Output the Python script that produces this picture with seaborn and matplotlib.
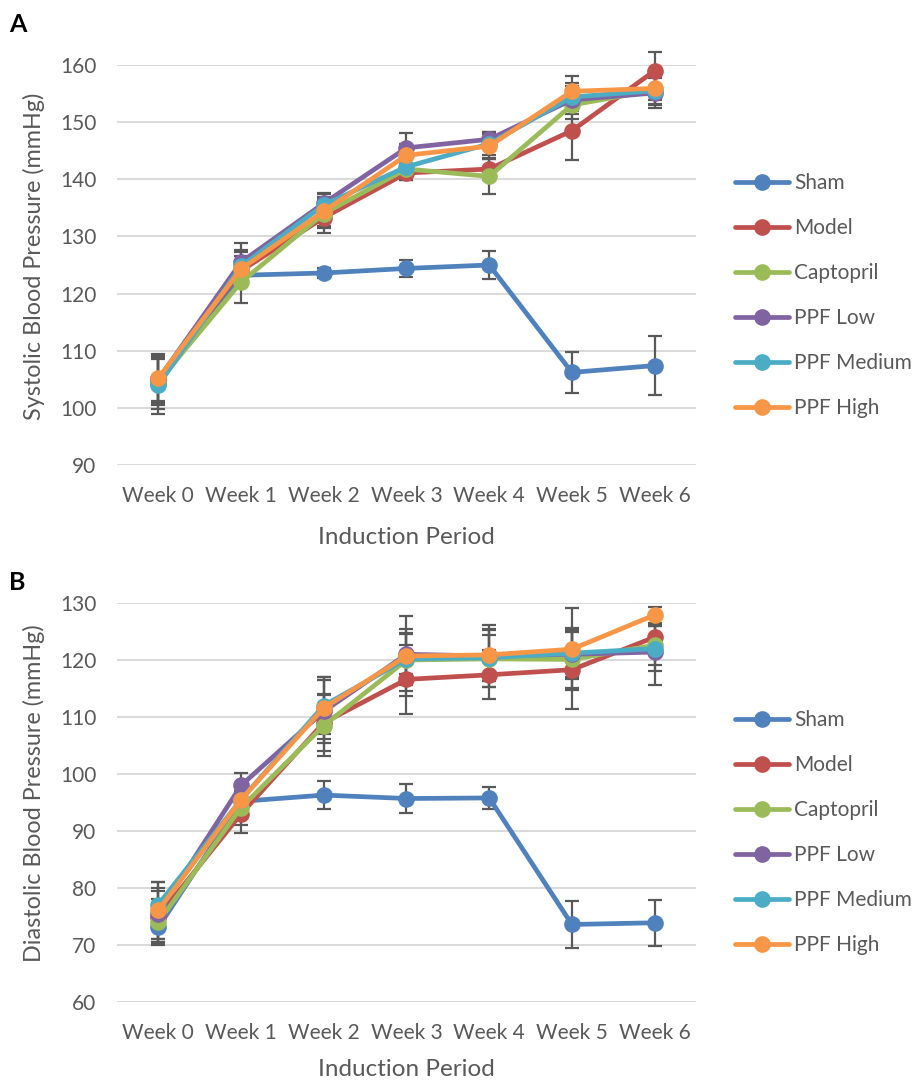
import numpy as np
import pandas as pd
import matplotlib
matplotlib.use("Agg")
import matplotlib.pyplot as plt
from matplotlib.lines import Line2D
import seaborn as sns

weeks = ["Week 0", "Week 1", "Week 2", "Week 3", "Week 4", "Week 5", "Week 6"]
groups = ["Sham", "Model", "Captopril", "PPF Low", "PPF Medium", "PPF High"]
colors = ["#4F81BD", "#C0504D", "#9BBB59", "#8064A2", "#4BACC6", "#F79646"]

# Panel A: systolic blood pressure (mmHg)
sbp_sham = [104.3, 123.2, 123.6, 124.4, 125.0, 106.2, 107.4]
sbp_model = [105.0, 124.0, 133.3, 141.1, 141.8, 148.5, 159.0]
sbp_capt = [104.6, 122.0, 134.0, 141.8, 140.5, 153.0, 155.6]
sbp_low = [105.0, 125.5, 135.8, 145.5, 147.0, 153.9, 155.1]
sbp_med = [104.0, 124.8, 135.5, 142.2, 146.2, 154.4, 155.5]
sbp_high = [105.2, 124.3, 134.4, 144.2, 145.8, 155.4, 155.9]

sbp_sham_err = [4.5, 1.0, 0.8, 1.5, 2.4, 3.6, 5.1]
sbp_model_err = [4.2, 2.6, 2.7, 1.2, 2.0, 5.2, 3.3]
sbp_capt_err = [4.0, 3.7, 2.5, 2.0, 3.0, 2.5, 2.5]
sbp_low_err = [4.5, 3.3, 1.8, 2.6, 1.2, 2.5, 2.6]
sbp_med_err = [5.0, 2.8, 2.0, 2.0, 2.0, 2.5, 2.5]
sbp_high_err = [4.0, 3.0, 2.5, 2.0, 2.2, 2.6, 2.0]

# Panel B: diastolic blood pressure (mmHg)
dbp_sham = [73.1, 95.2, 96.3, 95.7, 95.8, 73.6, 73.9]
dbp_model = [75.0, 93.0, 109.0, 116.6, 117.4, 118.3, 124.0]
dbp_capt = [74.0, 94.1, 108.5, 120.0, 120.2, 120.1, 122.6]
dbp_low = [75.5, 98.0, 111.0, 121.0, 120.7, 121.0, 121.4]
dbp_med = [77.1, 95.5, 112.0, 120.2, 120.4, 121.2, 122.0]
dbp_high = [76.1, 95.5, 111.6, 120.7, 120.9, 121.9, 127.9]

dbp_sham_err = [3.0, 1.0, 2.5, 2.5, 2.0, 4.2, 4.0]
dbp_model_err = [4.5, 3.3, 5.0, 6.0, 4.3, 6.9, 2.0]
dbp_capt_err = [4.0, 3.0, 5.3, 5.5, 5.0, 5.0, 3.5]
dbp_low_err = [4.5, 2.2, 5.5, 3.5, 5.5, 4.0, 5.8]
dbp_med_err = [4.0, 3.0, 5.0, 4.5, 4.0, 4.5, 4.0]
dbp_high_err = [5.0, 3.0, 5.4, 7.0, 4.5, 7.2, 1.4]

sbp_vals = [sbp_sham, sbp_model, sbp_capt, sbp_low, sbp_med, sbp_high]
sbp_errs = [sbp_sham_err, sbp_model_err, sbp_capt_err, sbp_low_err, sbp_med_err, sbp_high_err]
dbp_vals = [dbp_sham, dbp_model, dbp_capt, dbp_low, dbp_med, dbp_high]
dbp_errs = [dbp_sham_err, dbp_model_err, dbp_capt_err, dbp_low_err, dbp_med_err, dbp_high_err]

sns.set_theme(style="white")
plt.rcParams["font.family"] = ["Lato", "DejaVu Sans"]

TXT = "#595959"
FS = 15
FS_X = 17.5
FS_Y = 16.8

fig = plt.figure(figsize=(9.2, 10.83), dpi=100)
W, H = 920.0, 1083.0


def make_df(vals, errs):
    rows = []
    for g, v, e in zip(groups, vals, errs):
        for i, w in enumerate(weeks):
            rows.append({"group": g, "x": i, "week": w, "value": v[i], "err": e[i]})
    return pd.DataFrame(rows)


def panel(top_px, bottom_px, vals, errs, ylim, yticks, ylabel, letter, letter_y,
          leg_center_px, xlab_base, ylab_center):
    left_px, right_px = 117, 696
    hpx = bottom_px - top_px
    ax = fig.add_axes([left_px / W, 1 - bottom_px / H, (right_px - left_px) / W, hpx / H])
    df = make_df(vals, errs)
    for g in groups:
        d = df[df.group == g]
        ax.errorbar(d["x"], d["value"], yerr=d["err"], fmt="none", ecolor="#595959",
                    elinewidth=1.6, capsize=5, capthick=1.6, zorder=1.5, clip_on=False)
    sns.lineplot(data=df, x="x", y="value", hue="group", hue_order=groups,
                 palette=colors, marker="o", markersize=12, markeredgewidth=0,
                 linewidth=3.4, sort=False, legend=False, ax=ax, zorder=3)
    for ln in ax.get_lines():
        ln.set_clip_on(False)
    ax.set_xlim(-0.5, 6.5)
    ax.set_ylim(*ylim)
    ax.set_yticks(yticks)
    ax.set_xticks(range(7))
    ax.set_xticklabels(weeks)
    ax.grid(axis="y", color="#D9D9D9", linewidth=1.4)
    ax.grid(axis="x", visible=False)
    ax.set_axisbelow(True)
    for s in ax.spines.values():
        s.set_visible(False)
    ax.tick_params(axis="both", length=0, labelsize=FS, colors=TXT)
    ax.tick_params(axis="x", pad=15)
    ax.tick_params(axis="y", pad=15)
    ax.set_xlabel("Induction Period", fontsize=FS_X, color=TXT, va="baseline")
    ax.set_ylabel(ylabel, fontsize=FS_Y, color=TXT)
    ax.xaxis.set_label_coords(0.5, -(xlab_base - bottom_px) / hpx)
    ax.yaxis.set_label_coords((45 - left_px) / (right_px - left_px),
                              (bottom_px - ylab_center) / hpx)
    fig.text(9 / W, 1 - letter_y / H, letter, fontsize=18, fontweight="bold",
             color="black", va="center", ha="left")
    handles = [Line2D([0], [0], color=c, linewidth=3.4, marker="o", markersize=12,
                      markeredgewidth=0) for c in colors]
    fig.legend(handles, groups, loc="center left",
               bbox_to_anchor=(735 / W, 1 - leg_center_px / H),
               frameon=False, fontsize=FS, labelcolor=TXT, handlelength=2.6,
               handletextpad=0.25, labelspacing=1.2, borderpad=0, borderaxespad=0)
    return ax


panel(65, 465, sbp_vals, sbp_errs, (90, 160), range(90, 161, 10),
      "Systolic Blood Pressure (mmHg)", "A", 24, 295.5, 544, 256)
panel(603, 1002, dbp_vals, dbp_errs, (60, 130), range(60, 131, 10),
      "Diastolic Blood Pressure (mmHg)", "B", 583, 832.5, 1076, 793)

fig.savefig("out.png", dpi=100, facecolor="white")
